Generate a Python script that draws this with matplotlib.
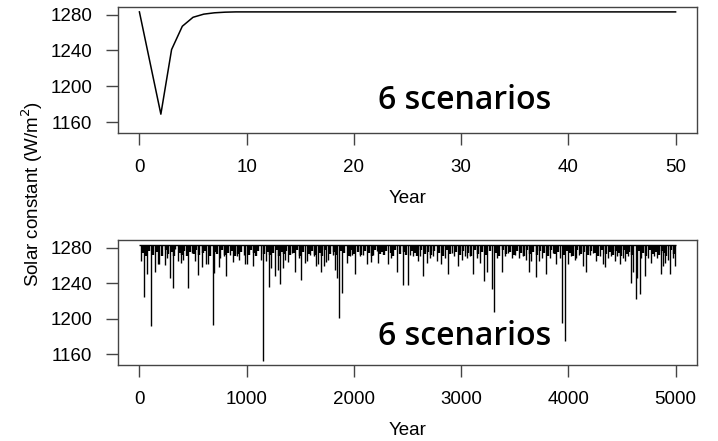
import matplotlib
matplotlib.use("Agg")
import matplotlib.pyplot as plt
import numpy as np

# top panel: one eruption, 50 years
short_year = [0, 1, 2, 3, 4, 5, 6, 7, 8, 9, 10, 20, 30, 40, 50]
short_value = [1283, 1226, 1169, 1241, 1267, 1277, 1280.5, 1282, 1282.7, 1283, 1283, 1283, 1283, 1283, 1283]

# bottom panel: 5000 years of eruptions (year, lowest value reached)
baseline = 1283
long_start, long_end = 0, 5000
erupt_year = [15, 46, 75, 105, 149, 170, 185, 236, 257, 283, 313, 335, 360, 385, 410, 450,
              490, 521, 543, 583, 620, 640, 683, 692, 739, 754, 785, 810, 847, 872, 909, 931,
              971, 987, 1003, 1055, 1136, 1152, 1180, 1204, 1229, 1266, 1288, 1313, 1335, 1360,
              1381, 1422, 1453, 1484, 1509, 1540, 1562, 1593, 1624, 1648, 1670, 1695, 1717, 1742,
              1763, 1801, 1826, 1847, 1862, 1893, 1933, 1964, 1986, 2010, 2058, 2089, 2126, 2157,
              2182, 2213, 2229, 2322, 2345, 2400, 2455, 2502, 2524, 2555, 2595, 2617, 2648, 2679,
              2710, 2735, 2772, 2812, 2849, 2880, 2912, 2936, 2967, 3004, 3035, 3051, 3082, 3113,
              3144, 3175, 3215, 3246, 3284, 3309, 3339, 3377, 3408, 3439, 3476, 3507, 3541, 3578,
              3603, 3631, 3656, 3696, 3724, 3755, 3796, 3827, 3858, 3889, 3920, 3945, 3973, 3998,
              4029, 4060, 4069, 4097, 4137, 4168, 4200, 4231, 4262, 4293, 4324, 4345, 4370, 4401,
              4432, 4457, 4479, 4510, 4532, 4557, 4581, 4603, 4628, 4643, 4665, 4681, 4712, 4743,
              4774, 4796, 4830, 4861, 4883, 4905, 4929, 4945, 4976, 4992]
erupt_min = [1265, 1224, 1250, 1192, 1253, 1261, 1262, 1260, 1268, 1246, 1235, 1278, 1265, 1263, 1266, 1234,
             1274, 1265, 1249, 1258, 1262, 1262, 1193, 1251, 1258, 1268, 1270, 1248, 1272, 1264, 1270, 1266,
             1272, 1262, 1261, 1259, 1266, 1152, 1265, 1236, 1257, 1248, 1255, 1239, 1257, 1266,
             1264, 1274, 1252, 1268, 1244, 1263, 1265, 1272, 1270, 1259, 1261, 1253, 1259, 1264,
             1266, 1272, 1255, 1246, 1201, 1229, 1263, 1270, 1272, 1250, 1270, 1272, 1261, 1264,
             1272, 1276, 1263, 1261, 1268, 1253, 1238, 1238, 1272, 1270, 1265, 1270, 1248, 1263,
             1268, 1270, 1265, 1261, 1268, 1250, 1274, 1270, 1259, 1266, 1270, 1268, 1270, 1250,
             1268, 1263, 1242, 1253, 1233, 1208, 1268, 1252, 1270, 1274, 1268, 1272, 1268, 1270,
             1266, 1252, 1265, 1247, 1265, 1268, 1250, 1268, 1274, 1261, 1268, 1195, 1175, 1261,
             1270, 1266, 1268, 1272, 1259, 1253, 1272, 1274, 1265, 1270, 1261, 1258, 1268, 1270,
             1265, 1270, 1261, 1268, 1265, 1270, 1240, 1252, 1222, 1246, 1228, 1268, 1248, 1268,
             1263, 1270, 1268, 1250, 1259, 1263, 1266, 1250, 1268, 1259]

# small eruptions that darken the band just under the baseline
minor_year = [30, 60, 90, 125, 160, 215, 245, 270, 300, 325, 375, 395, 420, 440, 470, 505, 530, 555,
              595, 610, 655, 705, 720, 770, 800, 830, 860, 890, 920, 950, 1020, 1040, 1070, 1090,
              1110, 1165, 1195, 1215, 1245, 1280, 1300, 1325, 1350, 1370, 1400, 1440, 1470, 1495,
              1525, 1580, 1610, 1635, 1680, 1705, 1730, 1780, 1815, 1835, 1880, 1910, 1950, 1975,
              2000, 2040, 2070, 2105, 2140, 2170, 2195, 2245, 2260, 2280, 2300, 2350, 2365, 2380,
              2430, 2470, 2485, 2540, 2570, 2585, 2630, 2665, 2695, 2720, 2750, 2790, 2830, 2865,
              2895, 2950, 2985, 3020, 3065, 3095, 3130, 3160, 3195, 3230, 3265, 3325, 3355, 3390,
              3420, 3455, 3490, 3525, 3560, 3590, 3615, 3645, 3670, 3710, 3740, 3770, 3810, 3840,
              3875, 3905, 3960, 3985, 4015, 4045, 4080, 4115, 4150, 4185, 4215, 4245, 4275, 4310,
              4355, 4385, 4415, 4445, 4470, 4495, 4520, 4545, 4570, 4590, 4655, 4695, 4725, 4760,
              4785, 4815, 4845, 4870, 4895, 4915, 4960, 4985]
minor_min = [1274, 1270, 1276, 1272, 1275, 1271, 1277, 1273, 1275, 1270, 1274, 1272, 1276, 1271, 1275, 1273, 1277, 1272,
             1274, 1276, 1271, 1275, 1273, 1277, 1272, 1274, 1276, 1271, 1273, 1275, 1272, 1277, 1274, 1271,
             1276, 1273, 1275, 1272, 1274, 1277, 1271, 1275, 1273, 1276, 1272, 1274, 1277, 1271,
             1275, 1273, 1276, 1272, 1274, 1271, 1277, 1273, 1275, 1272, 1276, 1274, 1271, 1277,
             1273, 1275, 1272, 1276, 1274, 1271, 1277, 1273, 1275, 1272, 1276, 1274, 1271, 1277,
             1273, 1275, 1272, 1276, 1274, 1271, 1277, 1273, 1275, 1272, 1276, 1274, 1271, 1277,
             1273, 1275, 1272, 1276, 1274, 1271, 1277, 1273, 1275, 1272, 1276, 1274, 1271, 1277,
             1273, 1275, 1272, 1276, 1274, 1271, 1277, 1273, 1275, 1272, 1276, 1274, 1271, 1277,
             1273, 1275, 1272, 1276, 1274, 1271, 1277, 1273, 1275, 1272, 1276, 1274, 1271, 1277,
             1273, 1275, 1272, 1276, 1274, 1271, 1277, 1273, 1275, 1272, 1276, 1274, 1271, 1277,
             1273, 1275, 1272, 1276, 1274, 1271, 1277, 1273]

y_ticks = [1160, 1200, 1240, 1280]
top_xticks = [0, 10, 20, 30, 40, 50]
bottom_xticks = [0, 1000, 2000, 3000, 4000, 5000]
label = "6 scenarios"

plt.rcParams['font.family'] = ['Liberation Sans', 'DejaVu Sans']
fig = plt.figure(figsize=(7.18, 4.41), dpi=100)
ax1 = fig.add_axes([0.1643, 0.6984, 0.8065, 0.2858])
ax2 = fig.add_axes([0.1643, 0.1723, 0.8065, 0.2835])

ylo, yhi = 1148, 1288.5
edge = '#444444'

ax1.plot(short_year, short_value, color='black', lw=1.1)
ax1.set_xlim(-2, 52)
ax1.set_xticks(top_xticks)

ax2.hlines(baseline, long_start, long_end, color='black', lw=1.0)
ax2.vlines(minor_year, minor_min, baseline, color='black', lw=1.7)
ax2.vlines(erupt_year, erupt_min, baseline, color='black', lw=1.0)
ax2.set_xlim(-200, 5200)
ax2.set_xticks(bottom_xticks)

for ax, ty in ((ax1, 0.26), (ax2, 0.23)):
    ax.set_ylim(ylo, yhi)
    ax.set_yticks(y_ticks)
    ax.tick_params(direction='out', length=8.5, width=1, color=edge, labelsize=13.5, pad=10)
    for s in ax.spines.values():
        s.set_color(edge)
        s.set_linewidth(1.0)
    ax.set_xlabel("Year", fontsize=13.5, labelpad=10)
    ax.text(0.449, ty, label, transform=ax.transAxes, ha='left', va='center',
            fontsize=23, family='Open Sans', weight='semibold')

fig.text(0.045, 0.56, "Solar constant (W/m$^2$)", rotation=90, ha='center', va='center', fontsize=13.5)

fig.savefig("out.png", dpi=100)
